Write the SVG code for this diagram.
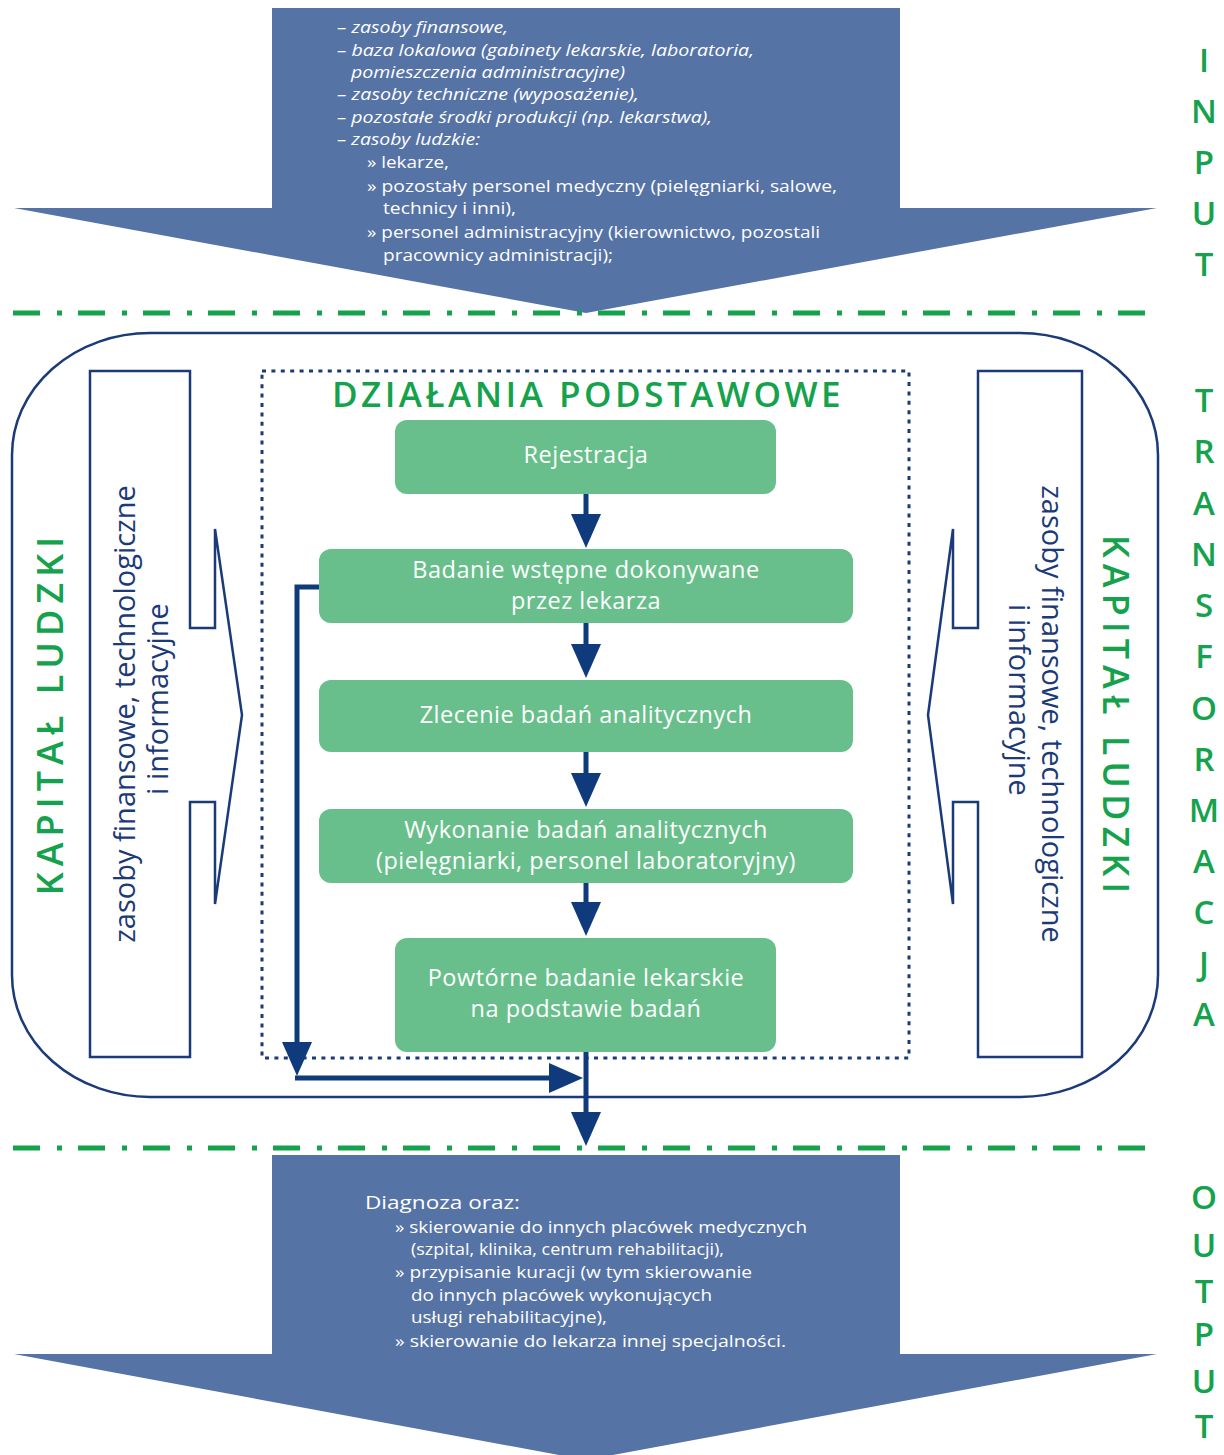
<svg xmlns="http://www.w3.org/2000/svg" width="1224" height="1455" viewBox="0 0 1224 1455">
<style>
.bigarrow{fill:#5673a6}
.sep{fill:none;stroke:#15a24c;stroke-width:5;stroke-dasharray:27 17 5 16}
.frame{fill:none;stroke:#1b3a78;stroke-width:2.5}
.dotbox{fill:none;stroke:#1b3a78;stroke-width:3;stroke-dasharray:4 5.4}
.panel{fill:#ffffff;stroke:#1b3a78;stroke-width:2.5;stroke-linejoin:miter}
.step{fill:#68bf8b}
.steptxt{font-family:"Open Sans","Noto Sans",sans-serif;font-size:23.5px;letter-spacing:0.5px;fill:#ffffff;text-anchor:middle}
.intxt{font-family:"Open Sans","Noto Sans",sans-serif;font-size:16px;fill:#ffffff}
.it{font-style:italic}
.outtxt{font-family:"Open Sans","Noto Sans",sans-serif;font-size:16.5px;fill:#ffffff}
.side{font-family:"Open Sans","Noto Sans",sans-serif;font-size:33px;font-weight:600;fill:#15a24c;text-anchor:middle}
.title{font-family:"Open Sans","Noto Sans",sans-serif;font-size:35px;font-weight:600;fill:#15a24c;text-anchor:middle;letter-spacing:3.5px}
.kap{font-family:"Open Sans","Noto Sans",sans-serif;font-size:36px;font-weight:600;fill:#15a24c;text-anchor:middle;letter-spacing:6px}
.res{font-family:"Open Sans","Noto Sans",sans-serif;font-size:29px;fill:#1b3a78;text-anchor:middle}
.conn{fill:none;stroke:#0f3b7d;stroke-width:5}
</style>
<defs>
<marker id="ah" viewBox="0 0 34 30" markerWidth="34" markerHeight="30" refX="26" refY="15" orient="auto" markerUnits="userSpaceOnUse">
<path d="M0 0 L34 15 L0 30 Z" fill="#0f3b7d"/>
</marker>
</defs>

<g id="input-arrow">
<path class="bigarrow" d="M272 8 H900 V208 H1157 L586 313 L14 208 H272 Z"/>
<text class="intxt it" x="337" y="33" textLength="171" lengthAdjust="spacingAndGlyphs">– zasoby finansowe,</text>
<text class="intxt it" x="337" y="56" textLength="417" lengthAdjust="spacingAndGlyphs">– baza lokalowa (gabinety lekarskie, laboratoria,</text>
<text class="intxt it" x="351" y="78" textLength="274" lengthAdjust="spacingAndGlyphs">pomieszczenia administracyjne)</text>
<text class="intxt it" x="337" y="100" textLength="302" lengthAdjust="spacingAndGlyphs">– zasoby techniczne (wyposażenie),</text>
<text class="intxt it" x="337" y="123" textLength="375" lengthAdjust="spacingAndGlyphs">– pozostałe środki produkcji (np. lekarstwa),</text>
<text class="intxt it" x="337" y="145" textLength="143" lengthAdjust="spacingAndGlyphs">– zasoby ludzkie:</text>
<text class="intxt" x="367" y="168" textLength="82" lengthAdjust="spacingAndGlyphs">» lekarze,</text>
<text class="intxt" x="367" y="192" textLength="470" lengthAdjust="spacingAndGlyphs">» pozostały personel  medyczny (pielęgniarki, salowe,</text>
<text class="intxt" x="383" y="214" textLength="133" lengthAdjust="spacingAndGlyphs">technicy i inni),</text>
<text class="intxt" x="367" y="238" textLength="453" lengthAdjust="spacingAndGlyphs">» personel administracyjny (kierownictwo, pozostali</text>
<text class="intxt" x="383" y="261" textLength="230" lengthAdjust="spacingAndGlyphs">pracownicy administracji);</text>
</g>

<g id="separators">
<line class="sep" x1="13" y1="313" x2="1160" y2="313"/>
<line class="sep" x1="13" y1="1148" x2="1160" y2="1148"/>
</g>

<g id="stage-labels">
<text class="side" x="1204" y="72">I</text>
<text class="side" x="1204" y="123">N</text>
<text class="side" x="1204" y="174">P</text>
<text class="side" x="1204" y="225">U</text>
<text class="side" x="1204" y="276">T</text>
<text class="side" x="1204" y="412">T</text>
<text class="side" x="1204" y="463">R</text>
<text class="side" x="1204" y="515">A</text>
<text class="side" x="1204" y="566">N</text>
<text class="side" x="1204" y="617">S</text>
<text class="side" x="1204" y="668">F</text>
<text class="side" x="1204" y="720">O</text>
<text class="side" x="1204" y="771">R</text>
<text class="side" x="1204" y="822">M</text>
<text class="side" x="1204" y="873">A</text>
<text class="side" x="1204" y="924">C</text>
<text class="side" x="1204" y="975">J</text>
<text class="side" x="1204" y="1026">A</text>
<text class="side" x="1204" y="1209">O</text>
<text class="side" x="1204" y="1257">U</text>
<text class="side" x="1204" y="1303">T</text>
<text class="side" x="1204" y="1346">P</text>
<text class="side" x="1204" y="1393">U</text>
<text class="side" x="1204" y="1438">T</text>
</g>

<g id="transformation-frame">
<rect class="frame" x="12" y="333" width="1146" height="764" rx="138" ry="122"/>
</g>

<g id="left-panel">
<path class="panel" d="M90 371 H190 V628 H215 V529 L242 715 L215 904 V802 H190 V1057 H90 Z"/>
<text class="kap" transform="translate(63 713) rotate(-90)">KAPITAŁ LUDZKI</text>
<text class="res" transform="translate(135 714) rotate(-90)">zasoby finansowe, technologiczne</text>
<text class="res" transform="translate(168 699) rotate(-90)">i informacyjne</text>
</g>

<g id="right-panel">
<path class="panel" d="M1082 371 H978 V628 H953 V529 L928 715 L953 904 V802 H978 V1057 H1082 Z"/>
<text class="kap" transform="translate(1103 717) rotate(90)">KAPITAŁ LUDZKI</text>
<text class="res" transform="translate(1042 714) rotate(90)">zasoby finansowe, technologiczne</text>
<text class="res" transform="translate(1009 700) rotate(90)">i informacyjne</text>
</g>

<g id="core-activities">
<rect class="dotbox" x="262" y="371" width="647" height="687"/>
<text class="title" x="588" y="407">DZIAŁANIA PODSTAWOWE</text>
</g>

<g id="step-rejestracja">
<rect class="step" x="395" y="420" width="381" height="74" rx="12"/>
<text class="steptxt" x="586" y="463">Rejestracja</text>
</g>
<g id="step-badanie-wstepne">
<rect class="step" x="319" y="549" width="534" height="74" rx="12"/>
<text class="steptxt" x="586" y="578">Badanie wstępne dokonywane</text>
<text class="steptxt" x="586" y="609">przez lekarza</text>
</g>
<g id="step-zlecenie">
<rect class="step" x="319" y="680" width="534" height="72" rx="12"/>
<text class="steptxt" x="586" y="723">Zlecenie badań analitycznych</text>
</g>
<g id="step-wykonanie">
<rect class="step" x="319" y="809" width="534" height="74" rx="12"/>
<text class="steptxt" x="586" y="838">Wykonanie badań analitycznych</text>
<text class="steptxt" x="586" y="869">(pielęgniarki, personel laboratoryjny)</text>
</g>
<g id="step-powtorne">
<rect class="step" x="395" y="938" width="381" height="114" rx="12"/>
<text class="steptxt" x="586" y="986">Powtórne badanie lekarskie</text>
<text class="steptxt" x="586" y="1017">na podstawie badań</text>
</g>

<g id="connectors">
<line class="conn" x1="586" y1="494" x2="586" y2="540" marker-end="url(#ah)"/>
<line class="conn" x1="586" y1="623" x2="586" y2="670" marker-end="url(#ah)"/>
<line class="conn" x1="586" y1="752" x2="586" y2="799" marker-end="url(#ah)"/>
<line class="conn" x1="586" y1="883" x2="586" y2="928" marker-end="url(#ah)"/>
<line class="conn" x1="586" y1="1052" x2="586" y2="1138" marker-end="url(#ah)"/>
<path class="conn" d="M319 587 H297 V1068" marker-end="url(#ah)"/>
<path class="conn" d="M295 1078 H575" marker-end="url(#ah)"/>
</g>

<g id="output-arrow">
<path class="bigarrow" d="M272 1155 H900 V1354 H1157 L586 1460 L14 1354 H272 Z"/>
<text class="outtxt" x="365" y="1209" style="font-size:19px" textLength="155" lengthAdjust="spacingAndGlyphs">Diagnoza oraz:</text>
<text class="outtxt" x="395" y="1233" textLength="412" lengthAdjust="spacingAndGlyphs">» skierowanie do innych placówek medycznych</text>
<text class="outtxt" x="411" y="1255" textLength="313" lengthAdjust="spacingAndGlyphs">(szpital, klinika, centrum rehabilitacji),</text>
<text class="outtxt" x="395" y="1278" textLength="357" lengthAdjust="spacingAndGlyphs">» przypisanie kuracji (w tym skierowanie</text>
<text class="outtxt" x="411" y="1301" textLength="301" lengthAdjust="spacingAndGlyphs">do innych placówek wykonujących</text>
<text class="outtxt" x="411" y="1323" textLength="196" lengthAdjust="spacingAndGlyphs">usługi rehabilitacyjne),</text>
<text class="outtxt" x="395" y="1347" textLength="391" lengthAdjust="spacingAndGlyphs">» skierowanie do lekarza innej specjalności.</text>
</g>
</svg>
